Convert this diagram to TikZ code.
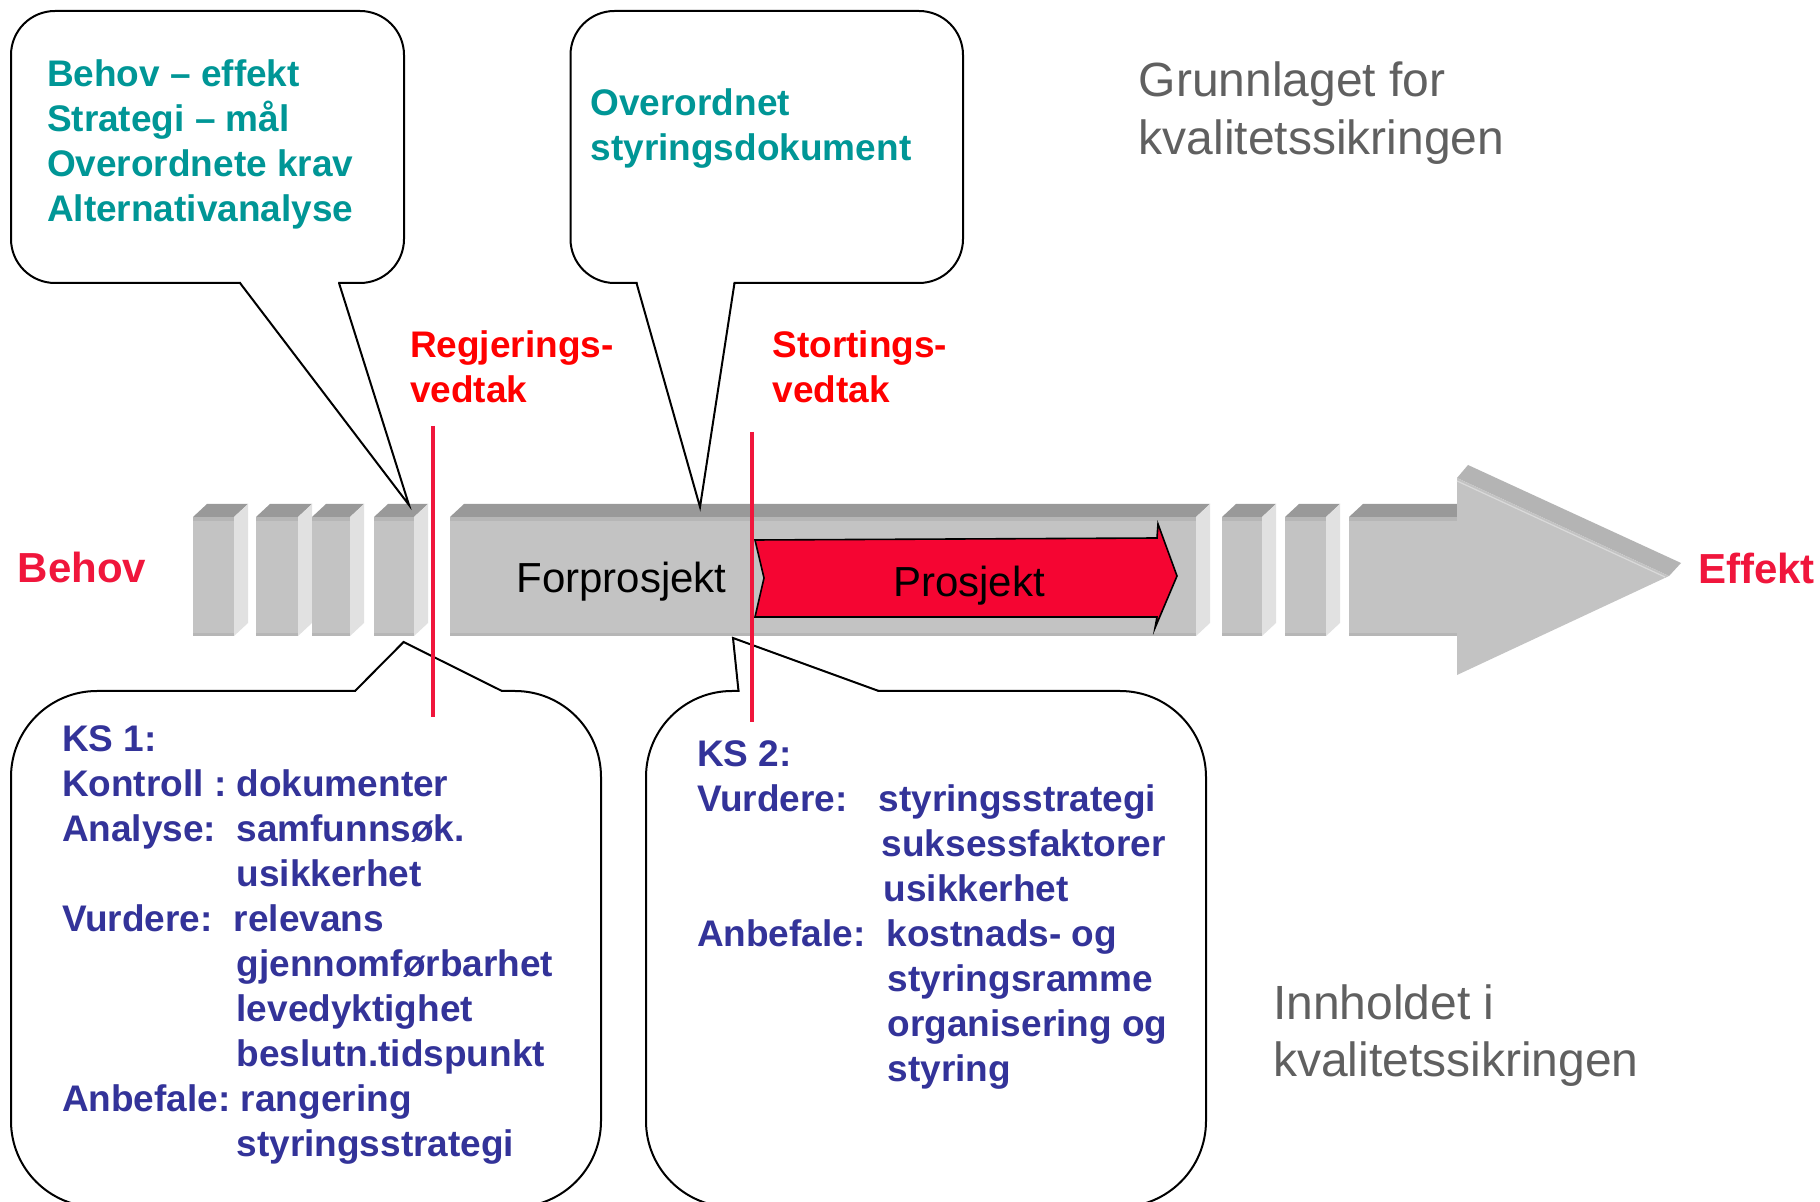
\documentclass[tikz,border=0pt]{standalone}
\usepackage{fontspec}
\setmainfont{Liberation Sans}
\definecolor{teal1}{RGB}{0,150,150}
\definecolor{navy1}{RGB}{51,51,153}
\definecolor{red1}{RGB}{255,0,0}
\definecolor{crim}{RGB}{240,22,60}
\definecolor{arrred}{RGB}{245,5,50}
\definecolor{gtext}{RGB}{96,96,96}
\definecolor{btop}{RGB}{153,153,153}
\definecolor{bfront}{RGB}{195,195,195}
\definecolor{bside}{RGB}{225,225,225}
\definecolor{bband}{RGB}{182,182,182}
\definecolor{htop}{RGB}{180,180,180}
\newcommand{\blk}[2]{%
  \fill[bfront] (#1,517) rectangle (#2,636);
  \fill[bband] (#1,517) rectangle (#2,521);
  \fill[bband] (#1,633) rectangle (#2,636);
  \fill[btop] (#1,517) -- (#2,517) -- ++(14,-13) -- ++({#1-#2},0) -- cycle;
  \fill[bside] (#2,517) -- ++(14,-13) -- ++(0,119) -- (#2,636) -- cycle;
}
\newcommand{\bt}{\fontsize{18.5}{22.5}\selectfont\bfseries}
\newcommand{\gt}{\fontsize{24}{28.7}\selectfont}
\tikzset{
  txt/.style={anchor=base west, inner sep=0pt, outer sep=0pt},
  co/.style={draw=black, line width=1pt, fill=white},
  coline/.style={draw=black, line width=1pt, line join=miter},
  redline/.style={draw=crim, line width=2pt},
}
\begin{document}
\begin{tikzpicture}[x=0.5pt, y=-0.5pt]
\useasboundingbox (0,0) rectangle (1820,1202);
\fill[white] (0,0) rectangle (1820,1202);

% ---- bar blocks ----
\blk{193}{234}
\blk{256}{298}
\blk{312}{350}
\blk{374}{414}
\blk{450}{1196}
\blk{1222}{1262}
\blk{1285}{1326}
% shaft
\fill[bfront] (1349,517) rectangle (1458,636);
\fill[bband] (1349,517) rectangle (1458,521);
\fill[bband] (1349,633) rectangle (1458,636);
\fill[btop] (1349,517) -- (1458,517) -- (1458,504) -- (1363,504) -- cycle;
% arrow head
\fill[htop] (1457,478) -- (1468,465) -- (1681,563) -- (1669,576) -- cycle;
\fill[bfront] (1457,478) -- (1669,576) -- (1457,675) -- cycle;
\draw[white!85!black, line width=0.6pt] (1457,481) -- (1665,577);

% ---- Prosjekt arrow ----
\filldraw[fill=arrred, draw=black, line width=0.8pt, line join=miter]
  (755,540) -- (1157,538) -- (1158,524) -- (1177,576) -- (1155,628)
  -- (1157,617) -- (755,617) -- (764,578) -- cycle;
\node[txt, font=\fontsize{21}{25}\selectfont] (forprosjekt) at (516.5,592.7) {Forprosjekt};
\node[txt, font=\fontsize{21}{25}\selectfont] (prosjekt) at (893,596.7) {Prosjekt};

% ---- callout top left ----
\coordinate (tlb1) at (240,283);
\coordinate (tlb2) at (339,283);
\coordinate (tltip) at (409,505);
\draw[co, rounded corners=22pt] (11,11) rectangle (404,283);
\fill[white] (241,279) -- (241,283) -- (tltip) -- (338,283) -- (338,279) -- cycle;
\draw[coline] (tlb1) -- (tltip) -- (tlb2);
\node[txt, text=teal1, font=\bt] (tltext) at (47,86.7)
  {\begin{tabular}[t]{@{}l@{}}Behov – effekt\\Strategi – mål\\Overordnete krav\\Alternativanalyse\end{tabular}};

% ---- callout top middle ----
\coordinate (tmb1) at (636.5,283);
\coordinate (tmb2) at (734.5,283);
\coordinate (tmtip) at (700,507);
\draw[co, rounded corners=22pt] (570.5,11) rectangle (963,283);
\fill[white] (637.5,279) -- (637.5,283) -- (tmtip) -- (733.5,283) -- (733.5,279) -- cycle;
\draw[coline] (tmb1) -- (tmtip) -- (tmb2);
\node[txt, text=teal1, font=\bt] (tmtext) at (590.6,116)
  {\begin{tabular}[t]{@{}l@{}}Overordnet\\styringsdokument\end{tabular}};

% ---- callout bottom left ----
\coordinate (blb1) at (355,691);
\coordinate (blb2) at (502,691);
\coordinate (bltip) at (403.6,642);
\draw[co, rounded corners=43pt] (11,691) rectangle (601,1207);
\fill[white] (356,695) -- (356,691) -- (bltip) -- (501,691) -- (501,695) -- cycle;
\draw[coline] (blb1) -- (bltip) -- (blb2);
\node[txt, text=navy1, font=\bt] (bltext) at (62,751.7)
  {\begin{tabular}[t]{@{}p{87.3pt}@{}l@{}}
  KS 1: & \\
  Kontroll : & dokumenter\\
  Analyse: & samfunnsøk.\\
   & usikkerhet\\
  Vurdere: & \hspace{-1.3pt}relevans\\
   & gjennomførbarhet\\
   & levedyktighet\\
   & beslutn.tidspunkt\\
  Anbefale: & \hspace{2.2pt}rangering\\
   & styringsstrategi
  \end{tabular}};

% ---- callout bottom right ----
\coordinate (brb1) at (738.5,691);
\coordinate (brb2) at (878.7,691);
\coordinate (brtip) at (733,638);
\draw[co, rounded corners=43pt] (646,691) rectangle (1206,1207);
\fill[white] (739.5,695) -- (739.5,691) -- (brtip) -- (877.7,691) -- (877.7,695) -- cycle;
\draw[coline] (brb1) -- (brtip) -- (brb2);
\node[txt, text=navy1, font=\bt] (brtext) at (697,766.7)
  {\begin{tabular}[t]{@{}p{90.8pt}@{}l@{}}
  KS 2: & \\
  Vurdere: & styringsstrategi\\
   & \hspace{1.6pt}suksessfaktorer\\
   & \hspace{2.6pt}usikkerhet\\
  Anbefale: & \hspace{4.1pt}kostnads- og\\
   & \hspace{4.6pt}styringsramme\\
   & \hspace{4.6pt}organisering og\\
   & \hspace{4.6pt}styring
  \end{tabular}};

% ---- red decision lines ----
\coordinate (r1a) at (433,426);
\coordinate (r1b) at (433,717);
\coordinate (r2a) at (752,432);
\coordinate (r2b) at (752,722);
\draw[redline] (r1a) -- (r1b);
\draw[redline] (r2a) -- (r2b);

% ---- labels ----
\node[txt, text=red1, font=\bt] (regj) at (410,358)
  {\begin{tabular}[t]{@{}l@{}}Regjerings-\\vedtak\end{tabular}};
\node[txt, text=red1, font=\bt] (stort) at (772.5,358)
  {\begin{tabular}[t]{@{}l@{}}Stortings-\\vedtak\end{tabular}};
\node[txt, text=crim, font=\fontsize{21}{25}\selectfont\bfseries] (behov) at (18,583) {Behov};
\node[txt, text=crim, font=\fontsize{21}{25}\selectfont\bfseries] (effekt) at (1698,584) {Effekt};
\node[txt, text=gtext, font=\gt] (grunn) at (1138.7,96.7)
  {\begin{tabular}[t]{@{}l@{}}Grunnlaget for\\kvalitetssikringen\end{tabular}};
\node[txt, text=gtext, font=\gt] (innh) at (1273,1019)
  {\begin{tabular}[t]{@{}l@{}}Innholdet i\\kvalitetssikringen\end{tabular}};
\end{tikzpicture}
\end{document}
